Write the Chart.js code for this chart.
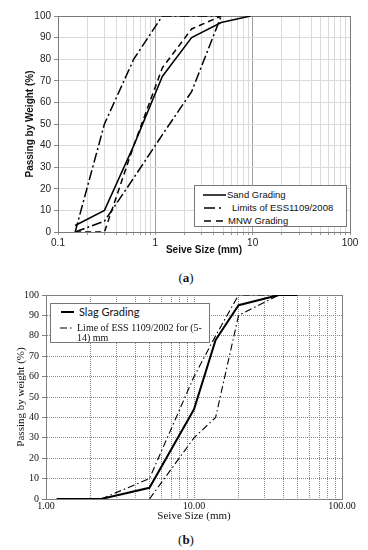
<!DOCTYPE html>
<html>
<head>
<meta charset="utf-8">
<script src="https://cdn.jsdelivr.net/npm/chart.js@4.4.1/dist/chart.umd.min.js"></script>
<style>
  body { margin: 0; background: #fff; width: 368px; height: 550px; position: relative; overflow: hidden; }
  .wrap { position: absolute; left: 0; width: 368px; }
  #wrapA { top: 0; height: 262px; }
  #wrapB { top: 280px; height: 245px; }
  .cap { position: absolute; left: 0; width: 372px; text-align: center; font: 13px "Liberation Serif", serif; color: #111; }
  .legend { position: absolute; background: #fff; border: 1px solid #777; box-sizing: border-box; z-index: 2; }
  .row { position: absolute; display: flex; align-items: center; white-space: nowrap; color: #111; }
  .row svg { flex: none; }
  .sans { font: 9.5px "Liberation Sans", Arial, sans-serif; }
  .serif { font: 10px/10px "Liberation Serif", serif; }
</style>
</head>
<body>
<div class="wrap" id="wrapA"><canvas id="chartA"></canvas></div>
<div class="cap" style="top:270px">(<b>a</b>)</div>

<div class="legend" style="left:194px;top:185px;width:153px;height:42px">
  <div class="row sans" style="left:8px;top:2px;height:13px">
    <svg width="23" height="6"><line x1="0" y1="3" x2="23" y2="3" stroke="#000" stroke-width="1.5"/></svg>
    <span style="margin-left:1px">Sand Grading</span>
  </div>
  <div class="row sans" style="left:8px;top:15px;height:13px">
    <svg width="22" height="6"><line x1="1" y1="3" x2="22" y2="3" stroke="#000" stroke-width="1.5" stroke-dasharray="11 4 2 4"/></svg>
    <span style="margin-left:7px">Limits of ESS1109/2008</span>
  </div>
  <div class="row sans" style="left:8px;top:28px;height:13px">
    <svg width="22" height="6"><line x1="1" y1="3" x2="22" y2="3" stroke="#000" stroke-width="1.5" stroke-dasharray="7 5"/></svg>
    <span style="margin-left:3px">MNW Grading</span>
  </div>
</div>

<div class="wrap" id="wrapB"><canvas id="chartB"></canvas></div>
<div class="cap" style="top:532px">(<b>b</b>)</div>

<div class="legend" style="left:50px;top:303px;width:160px;height:40px">
  <div class="row" style="left:10px;top:1px;height:13px">
    <svg width="13" height="6"><line x1="0" y1="3" x2="13" y2="3" stroke="#000" stroke-width="2"/></svg>
    <span style="margin-left:5px;font:11px Lato, 'Open Sans', sans-serif">Slag Grading</span>
  </div>
  <div class="row serif" style="left:9px;top:19px;align-items:flex-start">
    <svg width="14" height="10"><line x1="0" y1="5" x2="14" y2="5" stroke="#000" stroke-width="1.2" stroke-dasharray="7 3 1.5 3"/></svg>
    <span style="margin-left:3px">Lime of ESS 1109/2002 for (5-<br>14) mm</span>
  </div>
</div>

<script>
// (a) fine aggregate grading
const sandSize = [0.15, 0.3, 0.6, 1.18, 2.36, 4.75, 9.5];
const sandPass = [3, 10, 40, 72, 90, 97, 100];
const limitSize = [0.15, 0.3, 0.6, 1.18, 2.36, 4.75];
const limitUpper = [0, 50, 80, 100, 100, 100];
const limitLower = [0, 5, 25, 45, 65, 100];
const mnwSize = [0.15, 0.3, 0.6, 1.18, 2.36, 4.75];
const mnwPass = [0, 0, 40, 76, 94, 100];
const decadesA = [0.1, 1, 10, 100];

// (b) slag grading
const slagSize = [1.18, 2.36, 5, 10, 14, 20, 37.5, 50];
const slagPass = [0, 0, 5.5, 44, 78, 95, 100, 100];
const limUpSize = [2.36, 5, 10, 14, 20, 37.5];
const limUpPass = [0, 10, 60, 80, 100, 100];
const limLowSize = [5, 10, 14, 20, 37.5];
const limLowPass = [0, 30, 40, 90, 100];
const decadesB = [1, 10, 100];

const yTicks = [0, 10, 20, 30, 40, 50, 60, 70, 80, 90, 100];

const SANS = '"Liberation Sans", Arial, sans-serif';
const SERIF = '"Liberation Serif", "Times New Roman", serif';

function pts(xs, ys) {
  return xs.map((x, i) => ({ x: x, y: ys[i] }));
}

// 1..9 in every decade, plus the last decade
function logTicks(decades) {
  const out = [];
  decades.forEach((d, i) => {
    if (i === decades.length - 1) { out.push(d); return; }
    for (let m = 1; m < 10; m++) out.push(+(m * d).toPrecision(6));
  });
  return out;
}

function isDecade(v) {
  const l = Math.log10(v);
  return Math.abs(l - Math.round(l)) < 1e-9;
}

// border round the plot area
const frame = {
  id: 'frame',
  beforeDatasetsDraw(chart, args, opts) {
    const a = chart.chartArea;
    const ctx = chart.ctx;
    ctx.save();
    ctx.strokeStyle = opts.color;
    ctx.lineWidth = 1;
    ctx.strokeRect(Math.round(a.left) + 0.5, Math.round(a.top) + 0.5,
      Math.round(a.right) - Math.round(a.left), Math.round(a.bottom) - Math.round(a.top));
    ctx.restore();
  }
};

function line(label, data, width, dash) {
  return {
    label: label, data: data, showLine: true, borderColor: '#000', borderWidth: width,
    borderDash: dash, pointRadius: 0, fill: false, tension: 0
  };
}

const ticksA = logTicks(decadesA);
new Chart(document.getElementById('chartA'), {
  type: 'scatter',
  data: {
    datasets: [
      line('Sand Grading', pts(sandSize, sandPass), 1.5, []),
      line('Limits of ESS1109/2008', pts(limitSize, limitUpper), 1.5, [10, 3, 2, 3]),
      line('Limits of ESS1109/2008', pts(limitSize, limitLower), 1.5, [10, 3, 2, 3]),
      line('MNW Grading', pts(mnwSize, mnwPass), 1.5, [6, 4])
    ]
  },
  options: {
    responsive: true, maintainAspectRatio: false, animation: false,
    layout: { padding: { top: 16, right: 18, left: 0, bottom: 0 } },
    plugins: { legend: { display: false }, tooltip: { enabled: false }, frame: { color: '#7a7a7a' } },
    scales: {
      x: {
        type: 'logarithmic', min: 0.1, max: 100,
        afterBuildTicks: s => { s.ticks = ticksA.map(v => ({ value: v })); },
        afterFit: s => { s.height = 30; },
        ticks: {
          autoSkip: false, maxRotation: 0, padding: 2, color: '#222',
          font: { family: SANS, size: 10 },
          callback: v => isDecade(v) ? String(v) : ''
        },
        grid: {
          color: c => (c.tick && isDecade(c.tick.value)) ? '#a0a0a0' : '#dadada',
          tickLength: 3, tickColor: '#999'
        },
        border: { color: '#7a7a7a' },
        title: {
          display: true, text: 'Seive Size (mm)', color: '#111',
          font: { family: SANS, size: 10, weight: 'bold' }, padding: { top: 0, bottom: 6 }
        }
      },
      y: {
        min: 0, max: 100,
        afterBuildTicks: s => { s.ticks = yTicks.map(v => ({ value: v })); },
        afterFit: s => { s.width = 58; },
        ticks: { padding: 3, color: '#222', font: { family: SANS, size: 10 } },
        grid: { color: '#dadada', tickLength: 4, tickColor: '#888' },
        border: { color: '#7a7a7a' },
        title: {
          display: true, text: 'Passing by Weight (%)', color: '#111',
          font: { family: SANS, size: 10, weight: 'bold' }, padding: { top: 24, bottom: 0 }
        }
      }
    }
  },
  plugins: [frame]
});

const ticksB = logTicks(decadesB);
new Chart(document.getElementById('chartB'), {
  type: 'scatter',
  data: {
    datasets: [
      line('Slag Grading', pts(slagSize, slagPass), 2, []),
      line('Lime of ESS 1109/2002 for (5-14) mm', pts(limUpSize, limUpPass), 1.1, [7, 3, 1.5, 3]),
      line('Lime of ESS 1109/2002 for (5-14) mm', pts(limLowSize, limLowPass), 1.1, [7, 3, 1.5, 3])
    ]
  },
  options: {
    responsive: true, maintainAspectRatio: false, animation: false,
    layout: { padding: { top: 15, right: 26, left: 0, bottom: 0 } },
    plugins: { legend: { display: false }, tooltip: { enabled: false }, frame: { color: '#808080' } },
    scales: {
      x: {
        type: 'logarithmic', min: 1, max: 100,
        afterBuildTicks: s => { s.ticks = ticksB.map(v => ({ value: v })); },
        afterFit: s => { s.height = 26; },
        ticks: {
          autoSkip: false, maxRotation: 0, padding: 1, color: '#111',
          font: { family: SERIF, size: 10 },
          callback: v => isDecade(v) ? v.toFixed(2) : ''
        },
        grid: { color: '#8a8a8a', drawTicks: false },
        border: { color: '#808080', dash: [1, 1] },
        title: {
          display: true, text: 'Seive Size (mm)', color: '#111',
          font: { family: SERIF, size: 11 }, padding: { top: 0, bottom: 2 }
        }
      },
      y: {
        min: 0, max: 100,
        afterBuildTicks: s => { s.ticks = yTicks.map(v => ({ value: v })); },
        afterFit: s => { s.width = 46; },
        ticks: { padding: 3, color: '#111', font: { family: SERIF, size: 10 } },
        grid: { color: '#8a8a8a', tickLength: 4, tickColor: '#808080' },
        border: { color: '#808080', dash: [1, 1] },
        title: {
          display: true, text: 'Passing by weight (%)', color: '#111',
          font: { family: SERIF, size: 11 }, padding: { top: 15, bottom: 0 }
        }
      }
    }
  },
  plugins: [frame]
});
</script>
</body>
</html>
